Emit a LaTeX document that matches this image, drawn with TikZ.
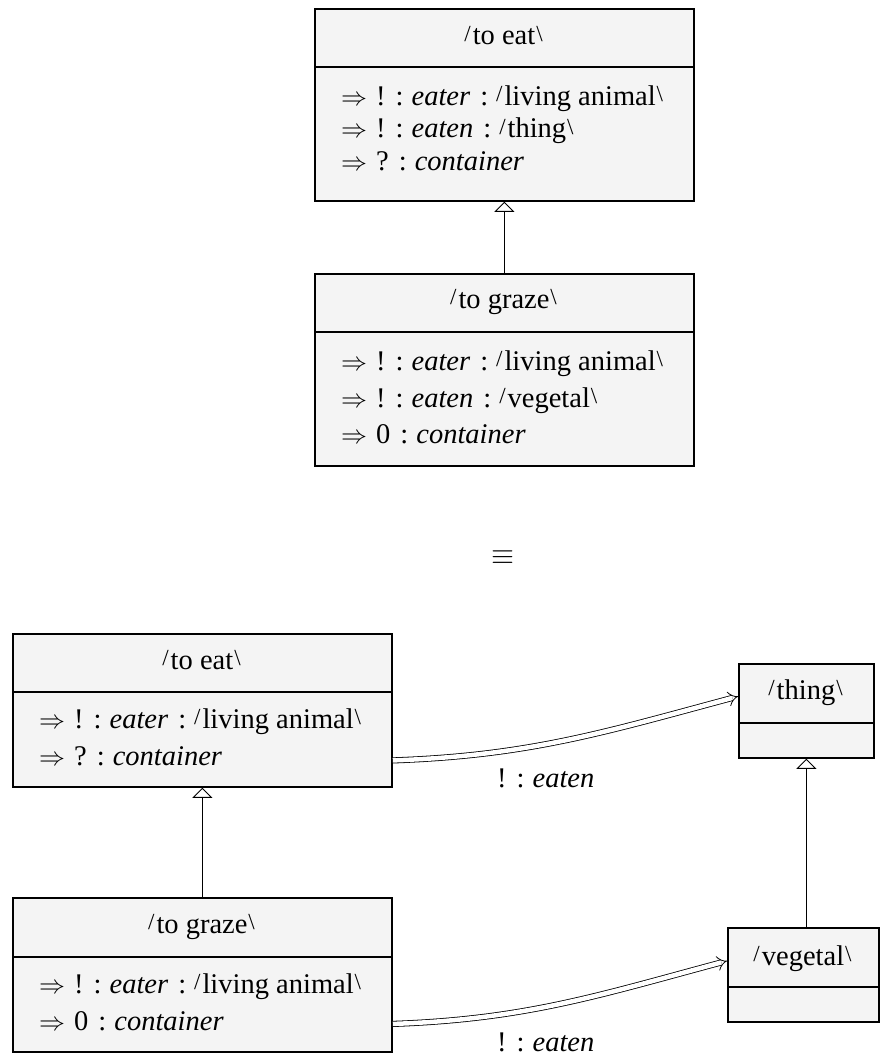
\documentclass[tikz,border=0pt]{standalone}
\usepackage{graphicx}
\usepackage{fontspec}
\setmainfont{Liberation Serif}
\newfontfamily\tms{Liberation Serif}
\usetikzlibrary{arrows.meta}
\definecolor{boxfill}{HTML}{F4F4F4}
\newcommand\ls{\raisebox{3.5pt}{\fontsize{23}{23}\selectfont/}\hspace{2pt}}
\newcommand\rs{\hspace{1pt}\raisebox{3.5pt}{\fontsize{23}{23}\selectfont\textbackslash}}
\newcommand\arr{\resizebox{26pt}{!}{$\Rightarrow$}\hspace{9pt}}
\newcommand\sep{\hspace{10pt}:\hspace{8pt}}
\tikzset{
  cls/.style={draw, line width=1.8pt, fill=boxfill, anchor=north west, inner sep=0pt},
  txt/.style={font=\tms\fontsize{28.5}{36.5}\selectfont, inner sep=0pt},
  ln/.style={txt, anchor=base west},
  hd/.style={txt, anchor=base},
  gen/.style={line width=0.9pt, -{Triangle[open, length=10pt, width=20pt, line width=0.9pt]}},
  assoc/.style={double, double distance=4.5pt, line width=0.8pt, -{Implies}},
}
\begin{document}
\begin{tikzpicture}[x=1pt, y=-1pt]
\useasboundingbox (0,0) rectangle (879,1057);
% top: to eat
\node[cls, minimum width=379pt, minimum height=58pt] (eatH) at (314,8) {};
\node[cls, minimum width=379pt, minimum height=134pt] (eatB) at (314,66) {};
\node[hd] (eatHt) at (503.5,45) {\ls to eat\rs};
\node[ln] (eat1) at (341,105) {\arr !\sep\textit{eater}\sep\ls living animal\rs};
\node[ln] (eat2) at (341,137.5) {\arr !\sep\textit{eaten}\sep\ls thing\rs};
\node[ln] (eat3) at (341,170) {\arr ?\sep\textit{container}};
% top: to graze
\node[cls, minimum width=379pt, minimum height=58pt] (grzH) at (314,273) {};
\node[cls, minimum width=379pt, minimum height=134pt] (grzB) at (314,331) {};
\node[hd] (grzHt) at (503.5,308) {\ls to graze\rs};
\node[ln] (grz1) at (341,370) {\arr !\sep\textit{eater}\sep\ls living animal\rs};
\node[ln] (grz2) at (341,407) {\arr !\sep\textit{eaten}\sep\ls vegetal\rs};
\node[ln] (grz3) at (341,443) {\arr 0\sep\textit{container}};
\draw[gen] (grzH.north) -- (eatB.south);
% equivalence
\node[inner sep=0pt] (eq) at (503,557.5) {\resizebox{23pt}{!}{$\equiv$}};
% bottom left: to eat
\node[cls, minimum width=379pt, minimum height=58pt] (aH) at (12,633) {};
\node[cls, minimum width=379pt, minimum height=95pt] (aB) at (12,691) {};
\node[hd] (aHt) at (201.5,669) {\ls to eat\rs};
\node[ln] (a1) at (39,728) {\arr !\sep\textit{eater}\sep\ls living animal\rs};
\node[ln] (a2) at (39,765) {\arr ?\sep\textit{container}};
% bottom left: to graze
\node[cls, minimum width=379pt, minimum height=59pt] (bH) at (12,897) {};
\node[cls, minimum width=379pt, minimum height=95pt] (bB) at (12,956) {};
\node[hd] (bHt) at (201.5,933) {\ls to graze\rs};
\node[ln] (b1) at (39,993) {\arr !\sep\textit{eater}\sep\ls living animal\rs};
\node[ln] (b2) at (39,1030) {\arr 0\sep\textit{container}};
\draw[gen] (bH.north) -- (aB.south);
% thing
\node[cls, minimum width=135pt, minimum height=59pt] (thH) at (738,663) {};
\node[cls, minimum width=135pt, minimum height=35pt] (thB) at (738,722) {};
\node[hd] (thHt) at (805.5,699) {\ls thing\rs};
% vegetal
\node[cls, minimum width=151pt, minimum height=59pt] (vgH) at (727,927) {};
\node[cls, minimum width=151pt, minimum height=35pt] (vgB) at (727,986) {};
\node[hd] (vgHt) at (802.5,965) {\ls vegetal\rs};
\draw[gen] (thB.south |- vgH.north) -- (thB.south);
% associations
\draw[assoc] ([yshift=-21pt]aB.east) to[out=2, in=195] ([yshift=-3pt]thH.west);
\node[txt, anchor=base west] (l1) at (497,787) {!\sep\textit{eaten}};
\draw[assoc] ([yshift=-19.5pt]bB.east) to[out=2, in=195] ([yshift=-3.5pt]vgH.west);
\node[txt, anchor=base west] (l2) at (497,1051) {!\sep\textit{eaten}};
\end{tikzpicture}
\end{document}
